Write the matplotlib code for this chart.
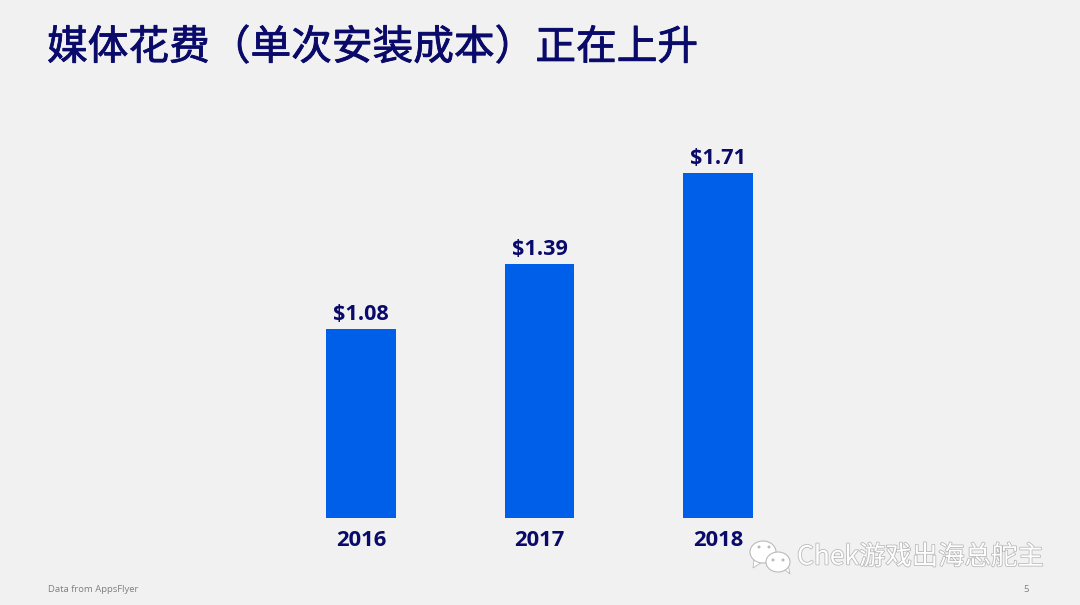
import matplotlib
matplotlib.use('Agg')
import matplotlib.pyplot as plt
import matplotlib.patheffects as pe
from matplotlib.patches import Ellipse, Polygon

plt.rcParams['font.family'] = ['Noto Sans CJK SC', 'DejaVu Sans']

years = ['2016', '2017', '2018']
# bar heights as drawn in the picture (the source chart's bars are not in proportion to their labels)
bar_heights = [0.937, 1.259, 1.71]
labels = ['$1.08', '$1.39', '$1.71']
title = '媒体花费（单次安装成本）正在上升'
source = 'Data from AppsFlyer'
page = '5'
watermark = 'Chek游戏出海总舵主'

BG = '#F1F1F1'
NAVY = '#0A0A6A'
BLUE = '#005FE8'
W, H = 1080, 605
LATIN = ['Open Sans', 'DejaVu Sans']

fig = plt.figure(figsize=(W/100, H/100), dpi=100, facecolor=BG)
ax = fig.add_axes([272/W, 1-518/H, 535/W, 345/H], facecolor=BG)
ax.bar(range(3), bar_heights, width=0.39, color=BLUE)
ax.set_xlim(-0.5, 2.5)
ax.set_ylim(0, 1.71)
ax.set_xticks(range(3), years, fontsize=15.8, fontweight='bold', color=NAVY, family=LATIN)
ax.tick_params(axis='x', length=0, pad=9)
ax.set_yticks([])
for s in ax.spines.values():
    s.set_visible(False)
for i, (v, l) in enumerate(zip(bar_heights, labels)):
    ax.annotate(l.replace('$', r'\$'), (i, v), xytext=(0, 3), textcoords='offset points',
                ha='center', va='bottom', fontsize=15.6, fontweight='bold', color=NAVY,
                family=LATIN, annotation_clip=False)

fig.text(47/W, 1-48/H, title, fontsize=29.3, color=NAVY, va='center', ha='left', fontweight='medium',
         path_effects=[pe.withStroke(linewidth=0.6, foreground=NAVY)])
fig.text(48/W, 1-590/H, source, fontsize=6.8, color='#808080', va='center', family=LATIN)
fig.text(1026/W, 1-590/H, page, fontsize=6.8, color='#808080', va='center', ha='center', family=LATIN)

# watermark: WeChat bubbles and text
def px(x, y):
    return (x/W, 1-y/H)

def bubble(cx, cy, rx, ry, tail):
    fig.add_artist(Polygon([px(*p) for p in tail], closed=True, transform=fig.transFigure,
                           facecolor='white', edgecolor='#BBBBBB', linewidth=0.6))
    fig.add_artist(Ellipse(px(cx, cy), 2*rx/W, 2*ry/H, transform=fig.transFigure,
                           facecolor='white', edgecolor='#BBBBBB', linewidth=0.8))

def dots(points):
    for x, y in points:
        fig.add_artist(Ellipse(px(x, y), 3/W, 3/H, transform=fig.transFigure,
                               facecolor='#BBBBBB', edgecolor='none'))

bubble(763, 552, 13, 11, [(754, 559), (753, 568), (762, 562)])
dots([(759, 547), (769, 547)])
bubble(778, 562, 12, 10, [(784, 569), (790, 574), (788, 564)])
dots([(773, 560), (783, 560)])

fig.text(797/W, 1-557/H, watermark, fontsize=19, color='#FFFFFF', va='center', ha='left',
         path_effects=[pe.withStroke(linewidth=1.1, foreground='#B5B5B5')])
fig.savefig('out.png', dpi=100, facecolor=BG)
